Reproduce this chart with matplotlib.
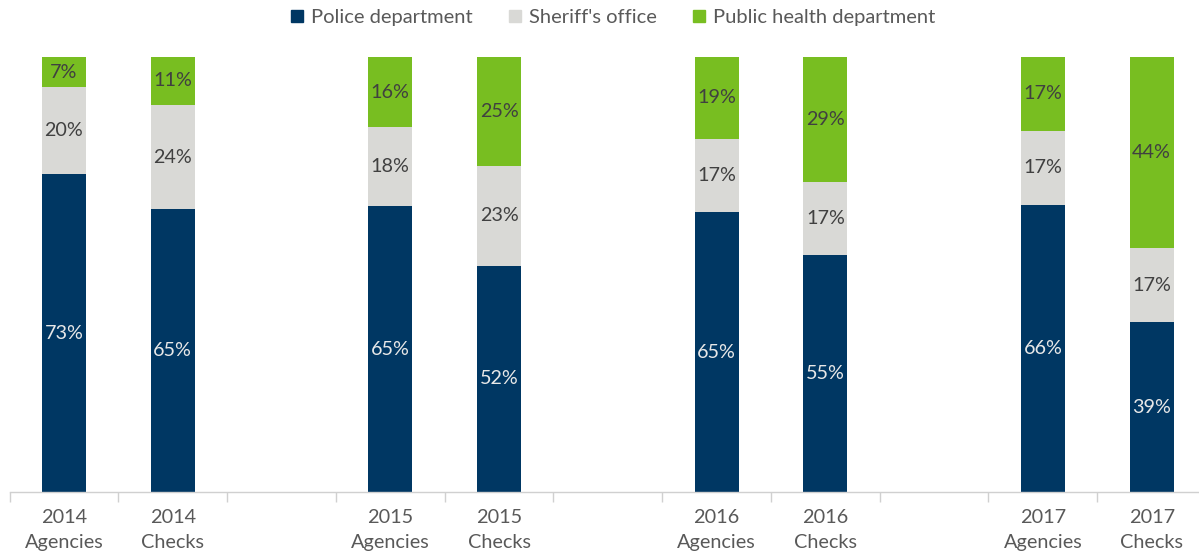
import matplotlib
matplotlib.use("Agg")
import matplotlib.pyplot as plt
from matplotlib.lines import Line2D
import numpy as np

categories = ["2014\nAgencies", "2014\nChecks", "", "2015\nAgencies", "2015\nChecks", "",
              "2016\nAgencies", "2016\nChecks", "", "2017\nAgencies", "2017\nChecks"]
police = [73, 65, None, 65, 52, None, 65, 55, None, 66, 39]
sheriff = [20, 24, None, 18, 23, None, 17, 17, None, 17, 17]
public_health = [7, 11, None, 16, 25, None, 19, 29, None, 17, 44]
series_names = ["Police department", "Sheriff's office", "Public health department"]
colors = ["#003763", "#D9D9D6", "#78BE21"]
label_colors = ["#E8E8E8", "#404040", "#404040"]

plt.rcParams['font.family'] = ['Lato', 'DejaVu Sans']

fig = plt.figure(figsize=(11.99, 5.54), dpi=100)
x0 = 9.6 / 1199
x1 = 1206.0 / 1199
ax = fig.add_axes([x0, 62 / 554, x1 - x0, (492 - 57) / 554])

n = len(categories)
x = np.arange(n)
series = [police, sheriff, public_health]
for i in range(n):
    if police[i] is None:
        continue
    vals = [s[i] for s in series]
    tot = sum(vals)
    bottom = 0.0
    for k, v in enumerate(vals):
        h = v / tot
        ax.bar(x[i], h, bottom=bottom, width=0.405, color=colors[k], edgecolor='none', zorder=2)
        ax.text(x[i], bottom + h / 2, f"{v}%", ha='center', va='center',
                fontsize=14.2, color=label_colors[k], zorder=3)
        bottom += h

ax.set_xlim(-0.5, n - 0.5)
ax.set_ylim(0, 1)
ax.set_yticks([])
for sp in ['top', 'right', 'left']:
    ax.spines[sp].set_visible(False)
ax.spines['bottom'].set_color('#D0D0D0')
ax.spines['bottom'].set_linewidth(1.0)

ax.set_xticks(np.arange(n + 1) - 0.5, minor=False)
ax.set_xticklabels([])
ax.tick_params(axis='x', which='major', length=7, color='#D0D0D0', width=1)
ax.set_xticks(x, minor=True)
ax.set_xticklabels(categories, minor=True, fontsize=14.3, color='#595959', linespacing=1.6)
ax.tick_params(axis='x', which='minor', length=0, pad=12)

handles = [Line2D([0], [0], marker='s', linestyle='none', markersize=8.5,
                  markerfacecolor=c, markeredgecolor=c) for c in colors]
fig.legend(handles, series_names, loc='center', bbox_to_anchor=(0.51, 0.969), ncol=3,
           frameon=False, fontsize=14.5, labelcolor='#595959', handletextpad=0.25,
           columnspacing=1.65, handlelength=0.9)

fig.savefig("out.png", dpi=100)
